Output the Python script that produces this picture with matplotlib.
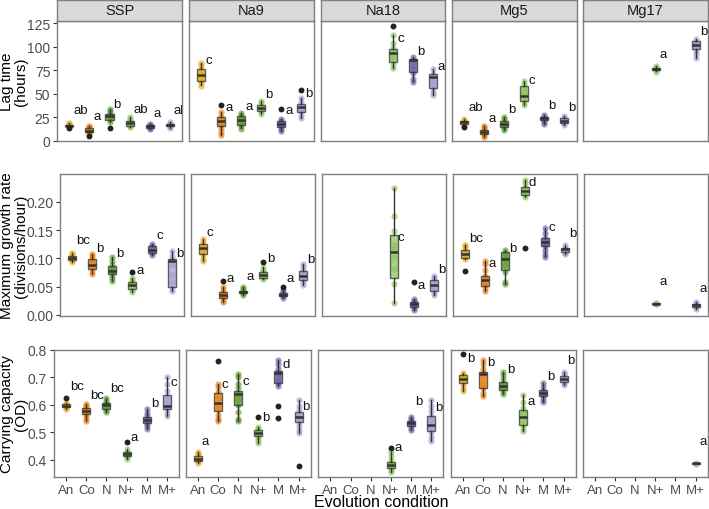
import matplotlib
matplotlib.use("Agg")
import matplotlib.pyplot as plt

plt.rcParams['font.family'] = ['Liberation Sans', 'DejaVu Sans']

envs = ["SSP", "Na9", "Na18", "Mg5", "Mg17"]
conds = ["An", "Co", "N", "N+", "M", "M+"]
colors = ["#E8A91A", "#E97F10", "#5C9E2E", "#8CC45A", "#6C64AD", "#A49ED3"]
N_ = None

# ---- lag time (hours) ----
lag_lo = [[14.5, 7, 20, 14.5, 12.5, 13.5], [59, 6, 13, 28.5, 10, 24], [N_, N_, N_, 77, 62, 49],
          [16, 4, 11, 37.5, 18, 16.6], [N_, N_, N_, 74, N_, 88.5]]
lag_q1 = [[15, 9, 22.3, 15.2, 13.5, 15], [63.7, 16, 16.6, 31, 14.2, 30], [N_, N_, N_, 84, 73.3, 55.6],
          [17.7, 6.7, 14.2, 42.5, 22.3, 18.8], [N_, N_, N_, 75.4, N_, 97.4]]
lag_med = [[16, 10.6, 25.8, 18.4, 15.2, 16.6], [69.8, 21.2, 22.3, 35, 17.7, 35.4], [N_, N_, N_, 93.5, 85.7, 67.3],
           [19.5, 8.9, 17.7, 47.8, 23.7, 21.2], [N_, N_, N_, 76.8, N_, 101.6]]
lag_q3 = [[17, 13, 28.3, 21.2, 16.6, 18], [76, 24.8, 26.6, 38, 21.2, 39], [N_, N_, N_, 97.4, 86.8, 70.8],
          [20.5, 11.7, 21.2, 58.4, 24.8, 24.1], [N_, N_, N_, 77.9, N_, 106.2]]
lag_hi = [[18.5, 15.5, 33.5, 25, 18, 19.5], [83, 30, 29.5, 42.5, 23, 45], [N_, N_, N_, 113, 89.5, 76],
          [22.5, 15.5, 25.5, 63.5, 27.3, 26.6], [N_, N_, N_, 79, N_, 108]]
lag_out = [[[13.5], [5], [13.5], [], [], []], [[], [37.9], [], [], [34], [54]], [[], [], [], [122], [], []],
           [[14.2], [], [], [], [], []], [[], [], [], [], [], []]]
lag_pts = [
    [[15, 16, 17, 18, 18.5, 15.5], [7, 8, 10, 11, 13, 14.5, 15.5], [20, 23, 25, 27, 29, 31, 33.5],
     [14.5, 16, 18, 19, 21, 23, 25], [12.5, 13.5, 14.5, 15.5, 16.5, 18], [13.5, 15, 16, 17, 18, 19.5]],
    [[58, 61, 64, 68, 71, 75, 79, 83], [6, 9, 13, 17, 20, 23, 26, 30], [12.5, 15, 18, 21, 24, 27, 29.5],
     [28.5, 31, 33, 35, 37, 40, 42.5], [10, 12, 15, 18, 21, 23], [24, 27, 31, 34, 37, 41, 45]],
    [[], [], [], [77, 82, 87, 91, 95, 99, 104, 113], [62, 66, 72, 76, 80, 84, 86, 89.5],
     [49, 52, 56, 60, 64, 68, 71, 76]],
    [[16, 17.5, 19, 20, 21, 22.5], [4, 6, 8, 10, 12, 14, 15.5], [11, 13, 16, 18, 20, 23, 25.5],
     [37.5, 41, 45, 48, 52, 56, 60, 63.5], [18, 20, 22, 23.5, 25, 27.3], [16.6, 18.5, 20.5, 22, 24, 26.6]],
    [[], [], [], [73, 75, 76.5, 77.5, 79], [], [88.5, 92, 96, 99, 102, 105, 108]],
]
lag_let = [["ab", "a", "b", "ab", "a", "ab"], ["c", "a", "a", "b", "a", "b"], ["", "", "", "c", "b", "a"],
           ["ab", "a", "b", "c", "b", "b"], ["", "", "", "a", "", "b"]]
lag_let_y = [[32.6, 25.8, 39.3, 34, 29.7, 32.6], [85.7, 35.4, 36.8, 49.6, 33, 50.3], [0, 0, 0, 109.4, 95.6, 79.7],
             [35.4, 23.7, 33.6, 64.8, 37.9, 36.1], [0, 0, 0, 92.8, 0, 116.9]]

# ---- maximum growth rate ----
gr_lo = [[0.093, 0.073, 0.060, 0.040, 0.105, 0.043], [0.096, 0.022, 0.035, 0.063, 0.030, 0.053],
         [N_, N_, N_, 0.021, 0.009, 0.035], [0.099, 0.043, 0.055, 0.209, 0.103, 0.107], [N_, N_, N_, 0.019, N_, 0.011]]
gr_q1 = [[0.0976, 0.081, 0.072, 0.046, 0.109, 0.049], [0.108, 0.0294, 0.038, 0.066, 0.033, 0.061],
         [N_, N_, N_, 0.065, 0.0135, 0.043], [0.100, 0.051, 0.080, 0.2124, 0.121, 0.112], [N_, N_, N_, 0.0195, N_, 0.014]]
gr_med = [[0.101, 0.088, 0.078, 0.052, 0.115, 0.095], [0.118, 0.035, 0.041, 0.071, 0.036, 0.069],
          [N_, N_, N_, 0.1106, 0.019, 0.053], [0.107, 0.061, 0.099, 0.219, 0.128, 0.1165], [N_, N_, N_, 0.020, N_, 0.0176]]
gr_q3 = [[0.1047, 0.098, 0.086, 0.058, 0.121, 0.099], [0.125, 0.040, 0.043, 0.0765, 0.039, 0.077],
         [N_, N_, N_, 0.141, 0.0235, 0.061], [0.115, 0.069, 0.111, 0.2253, 0.135, 0.119], [N_, N_, N_, 0.0205, N_, 0.020]]
gr_hi = [[0.110, 0.108, 0.103, 0.065, 0.126, 0.113], [0.134, 0.050, 0.049, 0.084, 0.044, 0.090],
         [N_, N_, N_, 0.225, 0.028, 0.069], [0.124, 0.096, 0.115, 0.239, 0.153, 0.123], [N_, N_, N_, 0.021, N_, 0.023]]
gr_out = [[[], [], [], [0.0765], [], []], [[], [0.059], [], [0.094], [0.050], []], [[], [], [], [], [0.058], []],
          [[0.078], [], [], [0.119], [], []], [[], [], [], [], [], []]]
gr_pts = [
    [[0.093, 0.097, 0.100, 0.103, 0.107, 0.110], [0.073, 0.078, 0.084, 0.089, 0.094, 0.099, 0.104, 0.108],
     [0.060, 0.065, 0.071, 0.077, 0.082, 0.088, 0.095, 0.103], [0.040, 0.044, 0.049, 0.053, 0.058, 0.062, 0.065],
     [0.105, 0.109, 0.113, 0.117, 0.121, 0.126], [0.043, 0.048, 0.058, 0.070, 0.088, 0.097, 0.104, 0.113]],
    [[0.096, 0.101, 0.107, 0.113, 0.119, 0.124, 0.129, 0.134], [0.022, 0.026, 0.031, 0.035, 0.039, 0.044, 0.050],
     [0.035, 0.038, 0.040, 0.042, 0.045, 0.049], [0.063, 0.066, 0.069, 0.072, 0.076, 0.080, 0.084],
     [0.030, 0.033, 0.035, 0.037, 0.040, 0.044], [0.053, 0.058, 0.063, 0.068, 0.073, 0.079, 0.085, 0.090]],
    [[], [], [], [0.021, 0.054, 0.081, 0.102, 0.116, 0.124, 0.149, 0.174, 0.225],
     [0.009, 0.012, 0.016, 0.019, 0.022, 0.025, 0.028], [0.035, 0.040, 0.045, 0.050, 0.055, 0.060, 0.065, 0.069]],
    [[0.099, 0.103, 0.108, 0.112, 0.117, 0.121, 0.124], [0.043, 0.048, 0.053, 0.058, 0.063, 0.068, 0.080, 0.090, 0.096],
     [0.055, 0.058, 0.075, 0.088, 0.097, 0.103, 0.110, 0.115], [0.209, 0.213, 0.217, 0.221, 0.226, 0.233, 0.239],
     [0.103, 0.108, 0.114, 0.121, 0.126, 0.131, 0.136, 0.145, 0.153], [0.107, 0.110, 0.113, 0.116, 0.119, 0.123]],
    [[], [], [], [0.019, 0.020, 0.021], [], [0.011, 0.014, 0.017, 0.020, 0.023]],
]
gr_let = [["bc", "b", "b", "a", "c", "b"], ["c", "a", "a", "b", "a", "b"], ["", "", "", "c", "a", "b"],
          ["bc", "a", "b", "d", "c", "bc"], ["", "", "", "a", "", "a"]]
gr_let_y = [[0.132, 0.118, 0.109, 0.080, 0.141, 0.109], [0.147, 0.066, 0.068, 0.100, 0.066, 0.099],
            [0, 0, 0, 0.138, 0.052, 0.081], [0.136, 0.092, 0.119, 0.235, 0.155, 0.145], [0, 0, 0, 0.0606, 0, 0.047]]

# ---- carrying capacity (OD) ----
cc_lo = [[0.585, 0.543, 0.575, 0.405, 0.512, 0.560], [0.390, 0.540, 0.540, 0.460, 0.670, 0.497],
         [N_, N_, N_, 0.355, 0.510, 0.468], [0.652, 0.634, 0.641, 0.504, 0.612, 0.673], [N_, N_, N_, N_, N_, 0.386]]
cc_q1 = [[0.591, 0.569, 0.587, 0.413, 0.533, 0.585], [0.396, 0.579, 0.599, 0.486, 0.679, 0.537],
         [N_, N_, N_, 0.370, 0.524, 0.506], [0.679, 0.660, 0.655, 0.527, 0.633, 0.682], [N_, N_, N_, N_, N_, 0.387]]
cc_med = [[0.598, 0.579, 0.599, 0.420, 0.546, 0.595], [0.404, 0.607, 0.639, 0.498, 0.715, 0.555],
          [N_, N_, N_, 0.382, 0.533, 0.527], [0.694, 0.712, 0.669, 0.555, 0.645, 0.694], [N_, N_, N_, N_, N_, 0.388]]
cc_q3 = [[0.603, 0.589, 0.609, 0.428, 0.558, 0.636], [0.414, 0.645, 0.651, 0.510, 0.724, 0.573],
         [N_, N_, N_, 0.394, 0.543, 0.561], [0.708, 0.721, 0.682, 0.581, 0.655, 0.706], [N_, N_, N_, N_, N_, 0.389]]
cc_hi = [[0.607, 0.605, 0.625, 0.440, 0.585, 0.702], [0.428, 0.675, 0.714, 0.520, 0.765, 0.618],
         [N_, N_, N_, 0.428, 0.556, 0.617], [0.718, 0.763, 0.719, 0.636, 0.680, 0.720], [N_, N_, N_, N_, N_, 0.390]]
cc_out = [[[0.625], [], [], [0.466], [], []], [[], [0.760], [], [0.556], [0.597, 0.552], [0.377]],
          [[], [], [], [0.443], [], []], [[0.784], [], [], [], [], []], [[], [], [], [], [], []]]
cc_pts = [
    [[0.585, 0.592, 0.598, 0.603, 0.607], [0.543, 0.553, 0.563, 0.572, 0.580, 0.588, 0.597, 0.605],
     [0.575, 0.583, 0.592, 0.600, 0.608, 0.616, 0.625], [0.405, 0.411, 0.417, 0.423, 0.430, 0.440],
     [0.512, 0.522, 0.532, 0.541, 0.550, 0.560, 0.572, 0.585],
     [0.560, 0.572, 0.585, 0.597, 0.612, 0.630, 0.652, 0.675, 0.702]],
    [[0.390, 0.396, 0.402, 0.408, 0.414, 0.421, 0.428], [0.540, 0.548, 0.565, 0.585, 0.605, 0.625, 0.648, 0.665, 0.675],
     [0.540, 0.550, 0.575, 0.600, 0.620, 0.640, 0.660, 0.678, 0.700, 0.714],
     [0.460, 0.472, 0.484, 0.494, 0.503, 0.512, 0.520], [0.670, 0.680, 0.692, 0.705, 0.718, 0.730, 0.748, 0.765],
     [0.497, 0.510, 0.524, 0.538, 0.552, 0.566, 0.580, 0.596, 0.618]],
    [[], [], [], [0.355, 0.362, 0.372, 0.381, 0.390, 0.400, 0.414, 0.428],
     [0.510, 0.518, 0.526, 0.534, 0.542, 0.550, 0.556],
     [0.468, 0.484, 0.500, 0.515, 0.530, 0.545, 0.560, 0.578, 0.598, 0.617]],
    [[0.652, 0.662, 0.675, 0.688, 0.700, 0.710, 0.718], [0.634, 0.645, 0.660, 0.680, 0.700, 0.715, 0.730, 0.748, 0.763],
     [0.641, 0.650, 0.660, 0.670, 0.680, 0.695, 0.710, 0.719],
     [0.504, 0.515, 0.530, 0.545, 0.560, 0.575, 0.590, 0.610, 0.636],
     [0.612, 0.622, 0.632, 0.642, 0.652, 0.665, 0.680], [0.673, 0.680, 0.688, 0.696, 0.704, 0.712, 0.720]],
    [[], [], [], [], [], [0.387, 0.389]],
]
cc_let = [["bc", "bc", "bc", "a", "b", "c"], ["a", "c", "c", "b", "d", "b"], ["", "", "", "a", "b", "b"],
          ["b", "b", "b", "a", "b", "b"], ["", "", "", "", "", "a"]]
cc_let_y = [[0.669, 0.637, 0.660, 0.482, 0.607, 0.685], [0.470, 0.676, 0.688, 0.558, 0.750, 0.598],
            [0, 0, 0, 0.447, 0.615, 0.593], [0.772, 0.758, 0.732, 0.615, 0.706, 0.764], [0, 0, 0, 0, 0, 0.470]]

W, H = 709, 510
fig = plt.figure(figsize=(W / 100, H / 100), dpi=100)


def px_axes(x0, y0, x1, y1):
    return fig.add_axes([x0 / W, 1 - y1 / H, (x1 - x0) / W, (y1 - y0) / H])


def draw_row(top, bottom, lefts, width, ylim, yticks, ylabels, ylabel,
             lo, q1, med, q3, hi, outs, pts, lets, let_y, last_row=False, strips=False):
    for e in range(5):
        ax = px_axes(lefts[e], top, lefts[e] + width, bottom)
        stats, pos, cols = [], [], []
        for c in range(6):
            if med[e][c] is None:
                continue
            stats.append(dict(med=med[e][c], q1=q1[e][c], q3=q3[e][c],
                              whislo=lo[e][c], whishi=hi[e][c], fliers=[]))
            pos.append(c + 1)
            cols.append(colors[c])
            ax.scatter([c + 1] * len(pts[e][c]), pts[e][c], s=20, color=colors[c],
                       alpha=0.65, linewidths=0, zorder=2)
            if outs[e][c]:
                ax.scatter([c + 1] * len(outs[e][c]), outs[e][c], s=18, color="#222222",
                           linewidths=0, zorder=4)
            if lets[e][c]:
                ax.text(c + 1.2, let_y[e][c], lets[e][c], fontsize=9.5, ha="left",
                        va="center", color="#111111", clip_on=True, zorder=5)
        if stats:
            bp = ax.bxp(stats, positions=pos, widths=0.4, patch_artist=True, showcaps=False,
                        showfliers=False,
                        boxprops=dict(edgecolor="#333333", linewidth=1.0),
                        whiskerprops=dict(color="#333333", linewidth=1.0),
                        medianprops=dict(color="#333333", linewidth=1.8))
            for patch, col in zip(bp["boxes"], cols):
                patch.set_facecolor(col)
                patch.set_alpha(0.75)
                patch.set_edgecolor("#333333")
            for k in bp.values():
                for art in k:
                    art.set_zorder(3)
        ax.set_xlim(0.4, 6.6)
        ax.set_ylim(*ylim)
        for sp in ax.spines.values():
            sp.set_color("#7F7F7F")
            sp.set_linewidth(1.0)
        ax.set_yticks(yticks)
        ax.set_xticks(range(1, 7))
        if e == 0:
            ax.set_yticklabels(ylabels, fontsize=10, color="#4D4D4D")
            ax.tick_params(axis="y", length=3, color="#333333", pad=2)
        else:
            ax.tick_params(axis="y", length=0, labelleft=False)
        if last_row:
            ax.set_xticklabels(conds, fontsize=9.5, color="#4D4D4D")
            ax.tick_params(axis="x", length=3, color="#333333", pad=2)
        else:
            ax.tick_params(axis="x", length=0, labelbottom=False)
        if strips:
            sa = px_axes(lefts[e], 0.5, lefts[e] + width, top)
            sa.set_facecolor("#D9D9D9")
            sa.set_xticks([])
            sa.set_yticks([])
            for sp in sa.spines.values():
                sp.set_color("#7F7F7F")
                sp.set_linewidth(1.0)
            sa.text(0.5, 0.5, envs[e], ha="center", va="center", fontsize=10.5,
                    color="#1A1A1A", transform=sa.transAxes)
    fig.text(14 / W, 1 - ((top + bottom) / 2) / H, ylabel, rotation=90, ha="center",
             va="center", fontsize=11, linespacing=1.0)


draw_row(22, 142, [57.3, 189, 320.7, 452, 583.3], 124.5, (-0.5, 127.5),
         [0, 25, 50, 75, 100, 125], ["0", "25", "50", "75", "100", "125"], "Lag time\n(hours)",
         lag_lo, lag_q1, lag_med, lag_q3, lag_hi, lag_out, lag_pts, lag_let, lag_let_y, strips=True)
draw_row(175, 317, [60.3, 191, 322, 453, 584], 123.8, (-0.002, 0.249),
         [0, 0.05, 0.10, 0.15, 0.20], ["0.00", "0.05", "0.10", "0.15", "0.20"],
         "Maximum growth rate\n(divisions/hour)",
         gr_lo, gr_q1, gr_med, gr_q3, gr_hi, gr_out, gr_pts, gr_let, gr_let_y)
draw_row(351, 478, [54, 185.7, 318.3, 450.7, 582.7], 125, (0.338, 0.80),
         [0.4, 0.5, 0.6, 0.7, 0.8], ["0.4", "0.5", "0.6", "0.7", "0.8"],
         "Carrying capacity\n(OD)",
         cc_lo, cc_q1, cc_med, cc_q3, cc_hi, cc_out, cc_pts, cc_let, cc_let_y, last_row=True)

fig.text(381 / W, 1 - 503 / H, "Evolution condition", ha="center", va="center", fontsize=11.5)

fig.savefig("out.png", dpi=100)
